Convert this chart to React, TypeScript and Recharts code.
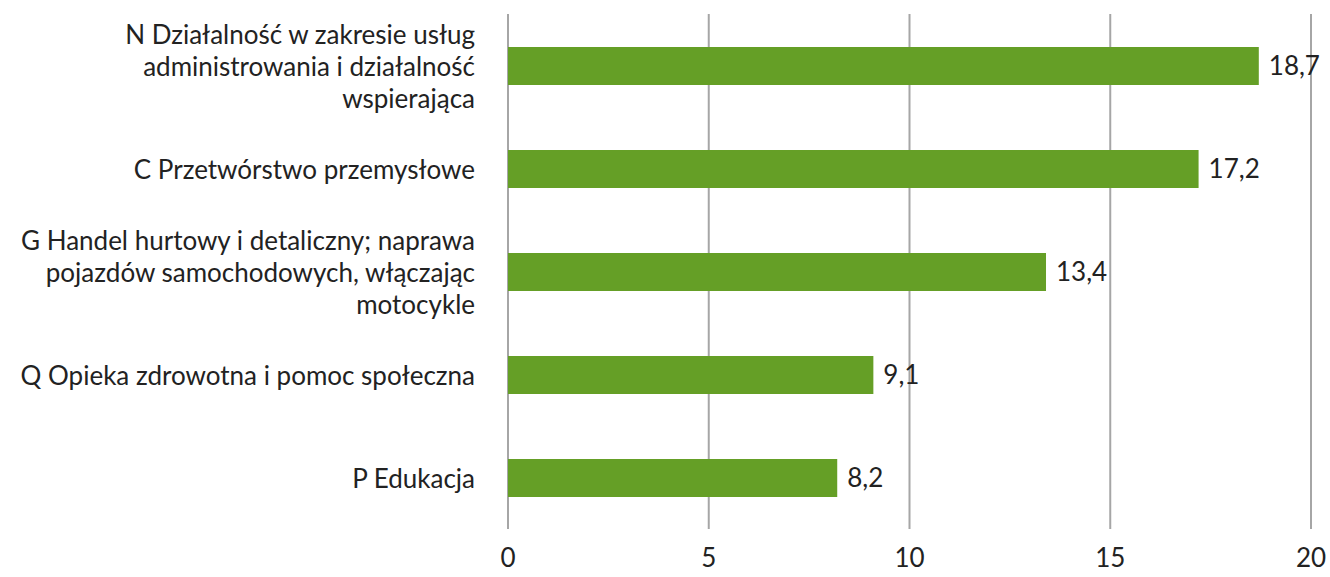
import React from "react";
import { BarChart, Bar, XAxis, YAxis, CartesianGrid, LabelList } from "recharts";

// Sections of the economy, wrapped lines joined by "\n"
const categories = [
  "N Działalność w zakresie usług\nadministrowania i działalność\nwspierająca",
  "C Przetwórstwo przemysłowe",
  "G Handel hurtowy i detaliczny; naprawa\npojazdów samochodowych, włączając\nmotocykle",
  "Q Opieka zdrowotna i pomoc społeczna",
  "P Edukacja",
];
const values = [18.7, 17.2, 13.4, 9.1, 8.2];
const xTicks = [0, 5, 10, 15, 20];

const data = categories.map((name, i) => ({ name, value: values[i] }));

const FONT = "Lato, 'Open Sans', sans-serif";
const TEXT = "#222222";
const SIZE = 26;

function CategoryTick(props: any) {
  const { x, y, payload } = props;
  const lines: string[] = String(payload.value).split("\n");
  const lineH = 32;
  const startY = y - ((lines.length - 1) * lineH) / 2;
  return (
    <text
      x={x}
      y={startY}
      textAnchor="end"
      fill={TEXT}
      fontSize={SIZE}
      fontFamily={FONT}
      dominantBaseline="central"
    >
      {lines.map((line, i) => (
        <tspan key={i} x={x} y={startY + i * lineH}>
          {line}
        </tspan>
      ))}
    </text>
  );
}

const fmt = (v: any) => Number(v).toFixed(1).replace(".", ",");

export default function App() {
  return (
    <div style={{ position: "absolute", left: 0, top: 0, background: "#fff" }}>
      <BarChart
        width={1330}
        height={577}
        data={data}
        layout="vertical"
        margin={{ top: 14, right: 19, bottom: 0, left: 0 }}
        barSize={38}
      >
        <CartesianGrid
          horizontal={false}
          vertical
          stroke="#a6a6a6"
          strokeWidth={2}
        />
        <XAxis
          type="number"
          domain={[0, 20]}
          ticks={xTicks}
          axisLine={false}
          tickLine={false}
          height={48}
          tickMargin={14}
          tick={{ fill: TEXT, fontSize: SIZE, fontFamily: FONT }}
        />
        <YAxis
          type="category"
          dataKey="name"
          width={508}
          axisLine={false}
          tickLine={false}
          tickMargin={27}
          tick={<CategoryTick />}
          interval={0}
        />
        <Bar dataKey="value" fill="#659f26" isAnimationActive={false}>
          <LabelList
            dataKey="value"
            position="right"
            offset={10}
            formatter={fmt}
            fill={TEXT}
            fontSize={SIZE}
            fontFamily={FONT}
          />
        </Bar>
      </BarChart>
    </div>
  );
}
